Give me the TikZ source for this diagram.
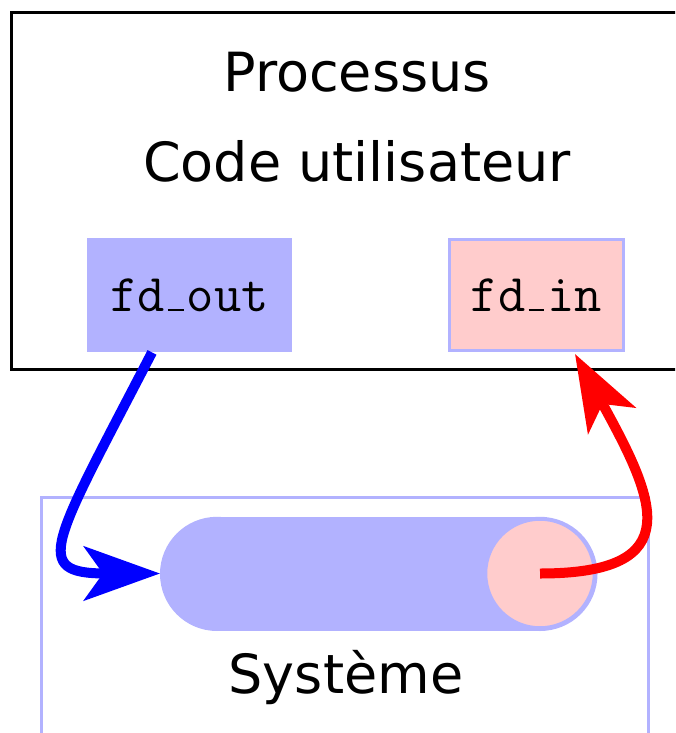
\documentclass[tikz,border=0pt]{standalone}
\usepackage{fontspec}
\setsansfont{DejaVu Sans}
\usetikzlibrary{arrows.meta,calc}
% baseline underscore, as a short rule
\newcommand\fdus{\kern.06em\vrule width .3em height 1.06pt depth 0pt\kern.06em}
\begin{document}
\begin{tikzpicture}[x=0.5pt,y=-0.5pt,
  label/.style={font=\fontsize{27}{32}\selectfont\sffamily, inner sep=0pt, anchor=base},
  fdbox/.style={font=\fontsize{26.5}{32}\selectfont\ttfamily, inner sep=0pt},
  flow/.style={line width=5pt, -{Stealth[length=38pt,width=27pt,inset=9.5pt]}}]
\clip (0,0) rectangle (675,733);

% process frame
\draw[line width=1.5pt] (11.5,12.5) rectangle (720,369.5);
\node[label] (proc) at (357,92) {Processus};
\node[label] (code) at (357,181) {Code utilisateur};

% file descriptors
\node[fdbox, fill=blue!30, minimum width=102.5pt, minimum height=57pt] (fdout) at (189.5,295) {fd\fdus out};
\node[fdbox, fill=red!20, draw=blue!30, line width=1.5pt,
      minimum width=87pt, minimum height=55.5pt] (fdin) at (536.5,295) {fd\fdus in};

% system frame
\draw[blue!30, line width=1.5pt] (41.5,760) -- (41.5,497.5) -- (648.5,497.5) -- (648.5,760);
\node[label] (sys) at (346,693) {Système};

% pipe: a lying cylinder whose right end shows
\coordinate (pipein) at (160,573.5);
\coordinate (pipeout) at (540,573.5);
\fill[blue!30] (217,516.75) rectangle (540,631);
\fill[blue!30] (217,573.9) ellipse [x radius=57, y radius=57.1];
\fill[blue!30] (540,573.9) ellipse [x radius=57.5, y radius=57.1];
\filldraw[draw=blue!30, line width=0.75pt, fill=red!20] (540,573.5) ellipse [x radius=53.5, y radius=53.5];

% data flow
\draw[flow, blue] ($(fdout.south)+(-37.5,0)$) .. controls +(-100,193) and +(-130,0) .. (pipein);
\draw[flow, red] (pipeout) .. controls +(150,0) and +(80,145) .. ($(fdin.south)+(38.5,2)$);
\end{tikzpicture}
\end{document}
